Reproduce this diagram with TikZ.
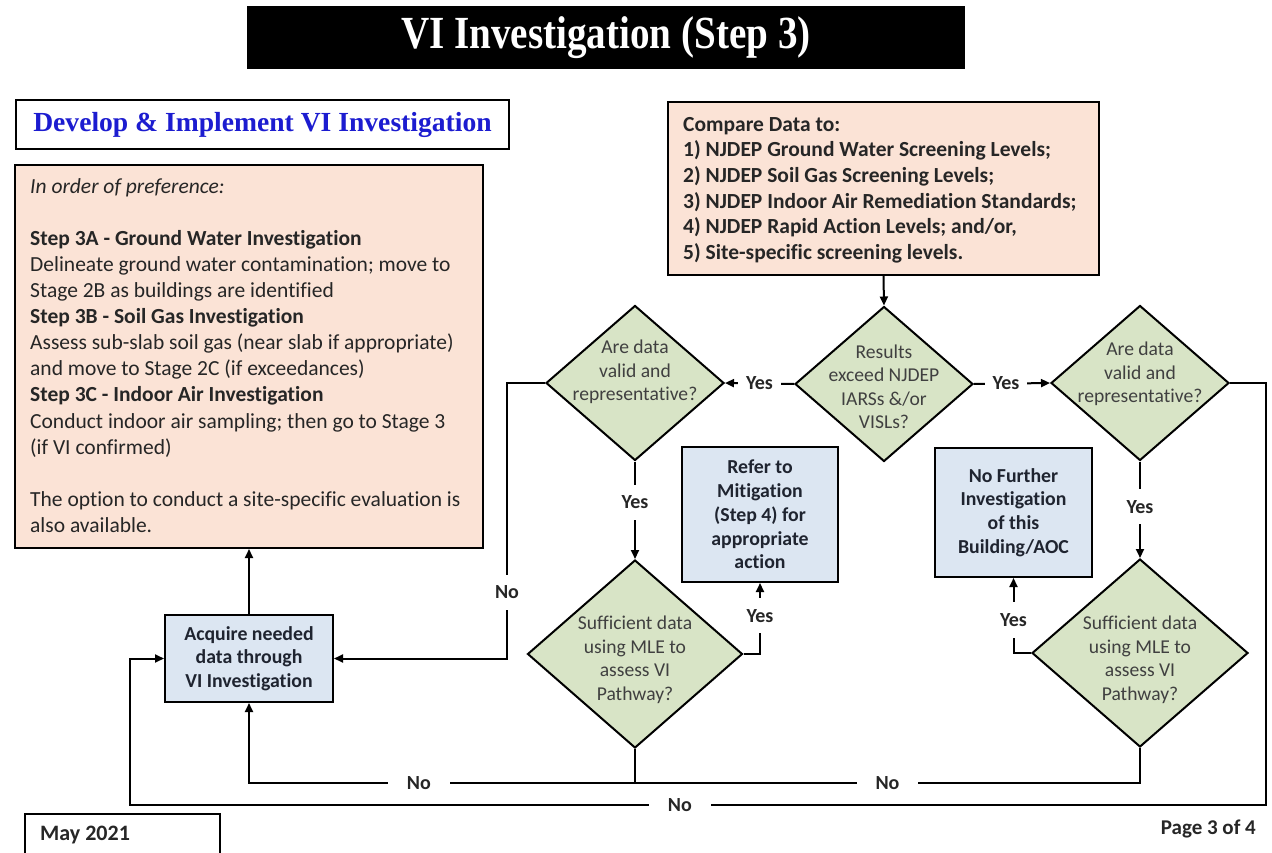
\documentclass[tikz,border=0pt]{standalone}
\usepackage{fontspec}
\setmainfont{Carlito}[Ligatures=NoCommon]
\newfontfamily\timesf{Liberation Serif}
\usetikzlibrary{shapes.geometric,arrows.meta,calc}
\definecolor{peach}{HTML}{FBE3D6}
\definecolor{dgreen}{HTML}{D8E4C6}
\definecolor{lblue}{HTML}{DCE6F2}
\definecolor{devblue}{HTML}{1C1CD0}
\definecolor{txtgray}{HTML}{262626}
\definecolor{dtxt}{HTML}{404040}
\definecolor{navytxt}{HTML}{1F2430}
\begin{document}
\begin{tikzpicture}[x=1pt,y=-1pt,
  box/.style={draw=black, line width=2pt, inner sep=0pt, rectangle},
  dia/.style={draw=black, line width=2pt, diamond, fill=dgreen, inner sep=0pt},
  dtext/.style={align=center, font=\fontsize{19.6}{23.5}\selectfont, text=dtxt, inner sep=0pt},
  bluebox/.style={box, fill=lblue, align=center, font=\bfseries\fontsize{19.8}{23.7}\selectfont, text=navytxt},
  conn/.style={line width=2pt},
  arr/.style={conn, -{Triangle[length=9pt,width=8pt]}},
  labh/.style={fill=white, inner xsep=8pt, inner ysep=1pt, font=\bfseries\fontsize{20}{20}\selectfont, text=txtgray},
  labw/.style={labh, inner xsep=19pt},
  labv/.style={fill=white, inner xsep=1pt, inner ysep=11pt, font=\bfseries\fontsize{20}{20}\selectfont, text=txtgray}
]
\useasboundingbox (0,0) rectangle (1272,853);
\fill[white] (0,0) rectangle (1272,853);

% title
\node[box, fill=black, minimum width=716, minimum height=61, text=white,
      font=\timesf\bfseries\fontsize{46}{46}\selectfont] (title) at (606,38)
      {\scalebox{0.85}[1]{VI Investigation (Step 3)}};

% develop
\node[box, fill=white, minimum width=493, minimum height=49, text=devblue,
      font=\timesf\bfseries\fontsize{27.6}{27.6}\selectfont] (dev) at (262.5,124.5)
      {Develop \& Implement VI Investigation};

% preference box
\node[box, fill=peach, minimum width=468, minimum height=383] (pref) at (249,356.5) {};
\node[anchor=north west, inner sep=0pt, align=left, text=txtgray,
      font=\fontsize{21.5}{26.1}\selectfont] (preftext) at (30,178)
{\textit{In order of preference:}\\[26.1pt]
\textbf{Step 3A - Ground Water Investigation}\\
Delineate ground water contamination; move to\\
Stage 2B as buildings are identified\\
\textbf{Step 3B - Soil Gas Investigation}\\
Assess sub-slab soil gas (near slab if appropriate)\\
and move to Stage 2C (if exceedances)\\
\textbf{Step 3C - Indoor Air Investigation}\\
Conduct indoor air sampling; then go to Stage 3\\
(if VI confirmed)\\[26.1pt]
The option to conduct a site-specific evaluation is\\
also available.};

% compare box
\node[box, fill=peach, minimum width=431, minimum height=173] (cmp) at (883.5,188.5) {};
\node[anchor=north west, inner sep=0pt, align=left, text=txtgray,
      font=\bfseries\fontsize{21.5}{25.6}\selectfont] (cmptext) at (683,117)
{Compare Data to:\\
1) NJDEP Ground Water Screening Levels;\\
2) NJDEP Soil Gas Screening Levels;\\
3) NJDEP Indoor Air Remediation Standards;\\
4) NJDEP Rapid Action Levels; and/or,\\
5) Site-specific screening levels.};

% diamonds
\node[dia, minimum width=178, minimum height=155] (d0) at (884,384) {};
\node[dtext] (d0t) at (884,387) {Results\\exceed NJDEP\\IARSs \&/or\\VISLs?};
\node[dia, minimum width=178, minimum height=155] (dl) at (635,383) {};
\node[dtext] (dlt) at (635,372) {Are data\\valid and\\representative?};
\node[dia, minimum width=178, minimum height=155] (dr) at (1140,383) {};
\node[dtext] (drt) at (1140,374) {Are data\\valid and\\representative?};
\node[dia, minimum width=215, minimum height=188] (sl) at (635,654) {};
\node[dtext] (slt) at (635,660) {Sufficient data\\using MLE to\\assess VI\\Pathway?};
\node[dia, minimum width=216, minimum height=188] (sr) at (1140,653) {};
\node[dtext] (srt) at (1140,660) {Sufficient data\\using MLE to\\assess VI\\Pathway?};

% blue boxes
\node[bluebox, minimum width=156, minimum height=135] (refer) at (760,514.5)
  {Refer to\\Mitigation\\(Step 4) for\\appropriate\\action};
\node[bluebox, minimum width=157, minimum height=129] (nofur) at (1013.5,512.5)
  {No Further\\Investigation\\of this\\Building/AOC};
\node[bluebox, minimum width=168, minimum height=87] (acq) at (249,658.5)
  {Acquire needed\\data through\\VI Investigation};

% footer
\draw[line width=1.5pt] (25,856) -- (25,814) -- (220,814) -- (220,856);
\node[anchor=west, inner sep=0pt, font=\bfseries\fontsize{22}{22}\selectfont, text=txtgray] (may) at (40,835) {May 2021};
\node[anchor=east, inner sep=0pt, font=\bfseries\fontsize{21}{21}\selectfont, text=txtgray] (page) at (1256,829) {Page 3 of 4};

% coordinates
\coordinate (bl) at (0,783);
\coordinate (rr) at (1266,805);
\coordinate (ol) at (130,805);
\coordinate (lx) at (507,0);

% connectors
\draw[arr] (cmp.south) -- (d0.north);
\draw[arr] (d0.west) -- node[labh]{Yes} (dl.east);
\draw[arr] (d0.east) -- node[labh, pos=0.42]{Yes} (dr.west);
\draw[arr] (dl.south) -- node[labv, pos=0.42]{Yes} (sl.north);
\draw[arr] (dr.south) -- node[labv, pos=0.47]{Yes} (sr.north);
\draw[arr] (sl.east) -| node[labv, pos=0.77]{Yes} (refer.south);
\draw[arr] (sr.west) -| node[labv, pos=0.72]{Yes} (nofur.south);
\draw[arr] (dl.west) -- (dl.west -| lx) |- node[labv, pos=0.38]{No} (acq.east);
\draw[arr] (acq.north) -- (pref.south);
\draw[arr] (sl.south) -- (sl.south |- bl) -| node[labw, pos=0.28]{No} (acq.south);
\draw[conn] (sr.south) -- (sr.south |- bl) -- node[labw]{No} (sl.south |- bl);
\draw[arr] (dr.east) -| (rr) -- node[labw, pos=0.516]{No} (ol) |- (acq.west);
\end{tikzpicture}
\end{document}
